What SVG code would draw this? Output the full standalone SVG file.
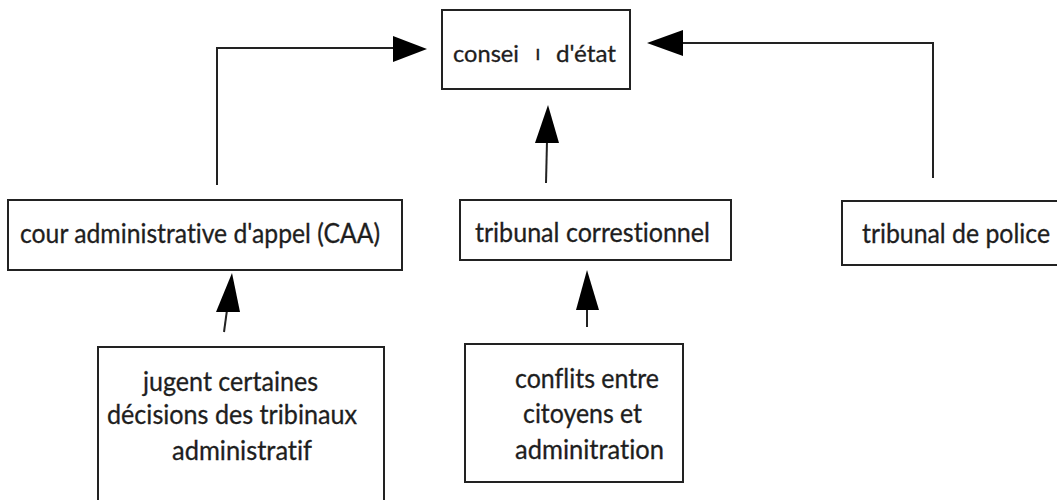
<svg xmlns="http://www.w3.org/2000/svg" width="1057" height="500" viewBox="0 0 1057 500">
<defs>
<style>
.box{fill:#fff;stroke:#222;stroke-width:2}
.t{font-family:Lato,"Open Sans","Liberation Sans",sans-serif;font-size:26px;fill:#1e1e1e;font-variant-ligatures:none;stroke:#1e1e1e;stroke-width:0.3}
.c{fill:none;stroke:#222;stroke-width:2}
.h{fill:#000;stroke:none}
</style>
</defs>
<rect width="1057" height="500" fill="#fff"/>
<g id="connectors">
<polyline class="c" points="217,185 217,48 395,48"/>
<polygon class="h" points="393,36 427,49 393,62"/>
<polyline class="c" points="933,178 933,43 681,43"/>
<polygon class="h" points="683,30 647,43 683,56"/>
<line class="c" x1="546" y1="183" x2="547" y2="141"/>
<polygon class="h" points="535,143 548,105 559,143"/>
<line class="c" x1="224" y1="332" x2="227" y2="310"/>
<polygon class="h" points="216,312 232,273 240,312"/>
<line class="c" x1="587" y1="327" x2="587" y2="308"/>
<polygon class="h" points="576,310 587,270 599,310"/>
</g>
<g id="conseil">
<rect class="box" x="442" y="10" width="188" height="79"/>
<text class="t" y="62" style="font-size:23px"><tspan x="453" textLength="66" lengthAdjust="spacingAndGlyphs">consei</tspan><tspan x="536" y="60" style="font-size:15px;font-weight:700">l</tspan><tspan x="556" y="62" textLength="60" lengthAdjust="spacingAndGlyphs">d'état</tspan></text>
</g>
<g id="caa">
<rect class="box" x="8" y="200" width="394" height="70"/>
<text class="t" x="20" y="243" textLength="360" lengthAdjust="spacingAndGlyphs">cour administrative d'appel (CAA)</text>
</g>
<g id="correctionnel">
<rect class="box" x="460" y="200" width="271" height="60"/>
<text class="t" x="475" y="242" textLength="235" lengthAdjust="spacingAndGlyphs">tribunal correstionnel</text>
</g>
<g id="police">
<rect class="box" x="842" y="201" width="230" height="64"/>
<text class="t" x="862" y="243" textLength="188" lengthAdjust="spacingAndGlyphs">tribunal de police</text>
</g>
<g id="jugent">
<rect class="box" x="98" y="347" width="286" height="170"/>
<text class="t" x="143" y="391" textLength="175" lengthAdjust="spacingAndGlyphs">jugent certaines</text>
<text class="t" x="107" y="424" textLength="250" lengthAdjust="spacingAndGlyphs">décisions des tribinaux</text>
<text class="t" x="172" y="460" textLength="140" lengthAdjust="spacingAndGlyphs">administratif</text>
</g>
<g id="conflits">
<rect class="box" x="465" y="344" width="218" height="138"/>
<text class="t" x="515" y="388" textLength="144" lengthAdjust="spacingAndGlyphs">conflits entre</text>
<text class="t" x="523" y="423" textLength="119" lengthAdjust="spacingAndGlyphs">citoyens et</text>
<text class="t" x="515" y="459" textLength="149" lengthAdjust="spacingAndGlyphs">adminitration</text>
</g>
</svg>
